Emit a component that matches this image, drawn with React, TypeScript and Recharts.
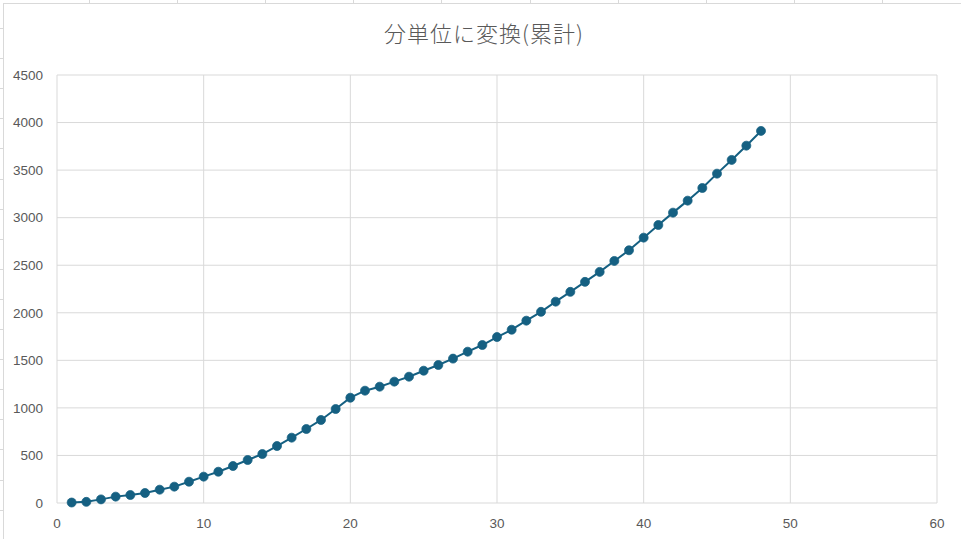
import React from "react";
import { LineChart, Line, XAxis, YAxis, CartesianGrid } from "recharts";

const TITLE = "分単位に変換(累計)";

const xValues = [
  1, 2, 3, 4, 5, 6, 7, 8, 9, 10, 11, 12, 13, 14, 15, 16, 17, 18, 19, 20, 21, 22, 23, 24,
  25, 26, 27, 28, 29, 30, 31, 32, 33, 34, 35, 36, 37, 38, 39, 40, 41, 42, 43, 44, 45, 46, 47, 48,
];

const cumulativeMinutes = [
  5, 12, 38, 67, 84, 105, 140, 172, 224, 277, 329, 389, 452, 515, 599, 687, 778, 873, 988, 1107,
  1181, 1223, 1276, 1328, 1391, 1451, 1518, 1591, 1661, 1745, 1822, 1917, 2010, 2117, 2220, 2325,
  2430, 2545, 2657, 2790, 2923, 3053, 3179, 3312, 3463, 3607, 3757, 3912,
];

const xTicks = [0, 10, 20, 30, 40, 50, 60];
const yTicks = [0, 500, 1000, 1500, 2000, 2500, 3000, 3500, 4000, 4500];

const data = xValues.map((x, i) => ({ x, y: cumulativeMinutes[i] }));

const SERIES_COLOR = "#156082";
const GRID_COLOR = "#d9d9d9";
const TEXT_COLOR = "#595959";

export default function App() {
  const colLines = [89, 177, 265, 353, 441, 530, 618, 706, 794, 882];
  const rowLines: number[] = [];
  for (let k = 0; k < 18; k++) rowLines.push(28 + 30.1 * k);
  return (
    <div
      style={{
        position: "absolute",
        left: 0,
        top: 0,
        width: 961,
        height: 539,
        overflow: "hidden",
        background: "#ffffff",
      }}
    >
      <svg
        width={961}
        height={539}
        style={{ position: "absolute", left: 0, top: 0 }}
      >
        {colLines.map((x) => (
          <line key={"c" + x} x1={x + 0.5} y1={0} x2={x + 0.5} y2={3} stroke={GRID_COLOR} strokeWidth={1} />
        ))}
        {rowLines.map((y) => (
          <line key={"r" + y} x1={0} y1={Math.round(y) + 0.5} x2={3} y2={Math.round(y) + 0.5} stroke={GRID_COLOR} strokeWidth={1} />
        ))}
        <rect x={3.5} y={3.5} width={1000} height={600} fill="#ffffff" stroke={GRID_COLOR} strokeWidth={1} />
      </svg>
      <div style={{ position: "absolute", left: 0, top: 0 }}>
        <LineChart
          width={961}
          height={539}
          data={data}
          margin={{ top: 75, right: 24, bottom: 0, left: 0 }}
        >
          <CartesianGrid stroke={GRID_COLOR} strokeWidth={1} />
          <XAxis
            type="number"
            dataKey="x"
            domain={[0, 60]}
            ticks={xTicks}
            interval={0}
            height={36}
            axisLine={false}
            tickLine={false}
            tickSize={0}
            tickMargin={15}
            tick={{ fill: TEXT_COLOR, fontSize: 13.5, fontFamily: "Liberation Sans, Arial, sans-serif" }}
          />
          <YAxis
            type="number"
            domain={[0, 4500]}
            ticks={yTicks}
            interval={0}
            width={57}
            axisLine={false}
            tickLine={false}
            tickSize={0}
            tickMargin={14}
            tick={{ fill: TEXT_COLOR, fontSize: 13.5, fontFamily: "Liberation Sans, Arial, sans-serif" }}
          />
          <Line
            type="linear"
            dataKey="y"
            stroke={SERIES_COLOR}
            strokeWidth={2}
            dot={{ r: 4.5, fill: SERIES_COLOR, stroke: SERIES_COLOR, strokeWidth: 0.75 }}
            activeDot={false}
            isAnimationActive={false}
          />
        </LineChart>
      </div>
      <svg
        width={961}
        height={80}
        style={{ position: "absolute", left: 0, top: 0, pointerEvents: "none" }}
      >
        <text
          x={484}
          y={42}
          textAnchor="middle"
          fill={TEXT_COLOR}
          fontSize={22}
          fontWeight={300}
          letterSpacing={1}
          fontFamily="'Noto Sans CJK JP', 'Noto Sans', sans-serif"
        >
          {TITLE}
        </text>
      </svg>
    </div>
  );
}
